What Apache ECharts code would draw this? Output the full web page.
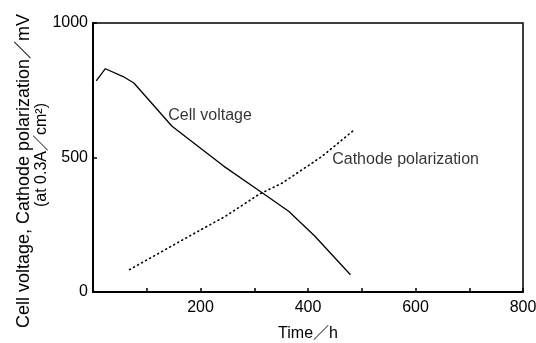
<!DOCTYPE html>
<html>
<head>
<meta charset="utf-8">
<script src="https://cdn.jsdelivr.net/npm/echarts@6/dist/echarts.min.js"></script>
<style>
  html, body { margin: 0; padding: 0; background: #fff; }
  #chart { width: 536px; height: 343px; }
</style>
</head>
<body>
<div id="chart"></div>
<script>
// Cell voltage at 0.3 A/cm² over operating time
const cellTime = [6, 23, 56, 76, 147, 243, 314, 364, 412, 479];
const cellVoltage = [785, 830, 801, 777, 616, 468, 370, 300, 209, 64];

// Cathode polarization over operating time
const polTime = [68, 184, 246, 308, 352, 426, 488];
const polValue = [83, 213, 281, 362, 405, 504, 606];

// Axis tick labels
const xTickLabels = [200, 400, 600, 800];
const yTickLabels = [0, 500, 1000];

// Curve captions, anchored in data space
const captions = [
  { name: 'Cell voltage', at: [140, 655] },
  { name: 'Cathode polarization', at: [445, 494] }
];

const FONT = '"Liberation Sans", Arial, "Noto Sans CJK JP", sans-serif';

const chart = echarts.init(document.getElementById('chart'), null, { renderer: 'canvas' });

const pair = (xs, ys) => xs.map((x, i) => [x, ys[i]]);

chart.setOption({
  animation: false,
  backgroundColor: '#fff',
  grid: {
    left: 93, right: 13, top: 23, bottom: 51,
    containLabel: false, outerBoundsMode: 'none',
    show: true, borderColor: '#000', borderWidth: 1.5, backgroundColor: 'transparent'
  },
  xAxis: {
    type: 'value', min: 0, max: 800, interval: 100,
    name: 'Time／h', nameLocation: 'middle', nameGap: 34,
    nameTextStyle: { fontFamily: FONT, fontSize: 16, color: '#000' },
    axisLine: { show: true, lineStyle: { color: '#000', width: 2 } },
    axisTick: { show: true, inside: true, length: 4, lineStyle: { color: '#000', width: 1.5 } },
    axisLabel: {
      fontFamily: FONT, fontSize: 16, color: '#000', margin: 8,
      formatter: v => (xTickLabels.indexOf(v) >= 0 ? String(v) : '')
    },
    splitLine: { show: false }
  },
  yAxis: {
    type: 'value', min: 0, max: 1000, interval: 500,
    axisLine: { show: true, lineStyle: { color: '#000', width: 2 } },
    axisTick: { show: true, inside: true, length: 4, lineStyle: { color: '#000', width: 1.5 } },
    axisLabel: {
      fontFamily: FONT, fontSize: 16, color: '#000', margin: 5,
      formatter: v => (yTickLabels.indexOf(v) >= 0 ? String(v) : '')
    },
    splitLine: { show: false }
  },
  graphic: [
    {
      type: 'text', x: 24, y: 171, rotation: Math.PI / 2,
      style: {
        text: 'Cell voltage, Cathode polarization／mV',
        fontFamily: FONT, fontSize: 18, fill: '#000',
        textAlign: 'center', textVerticalAlign: 'middle'
      }
    },
    {
      type: 'text', x: 42, y: 155, rotation: Math.PI / 2,
      style: {
        text: '(at 0.3A／cm²)',
        fontFamily: FONT, fontSize: 16, fill: '#000',
        textAlign: 'center', textVerticalAlign: 'middle'
      }
    }
  ],
  series: [
    {
      name: 'Cell voltage', type: 'line',
      data: pair(cellTime, cellVoltage),
      showSymbol: false, smooth: false,
      lineStyle: { color: '#000', width: 1.3 }
    },
    {
      name: 'Cathode polarization', type: 'line',
      data: pair(polTime, polValue),
      showSymbol: false, smooth: false,
      lineStyle: { color: '#000', width: 1.6, type: [1, 3.6], cap: 'round' }
    },
    {
      type: 'scatter', symbolSize: 0, silent: true,
      data: captions.map(c => ({ name: c.name, value: c.at })),
      label: {
        show: true, position: 'right', distance: 0,
        formatter: p => p.name,
        fontFamily: FONT, fontSize: 16, color: '#000'
      }
    }
  ]
});
</script>
</body>
</html>
